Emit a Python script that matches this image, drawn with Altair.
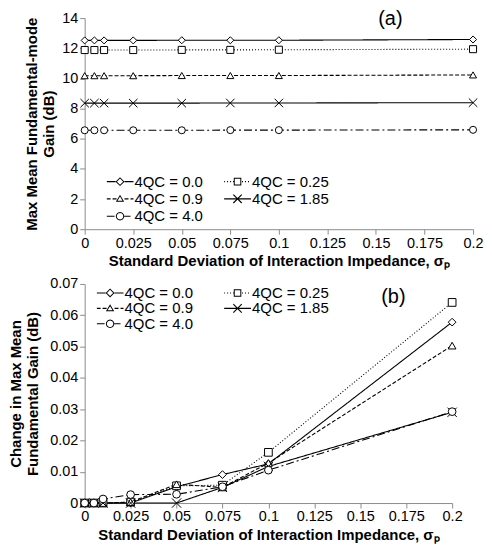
import math
import altair as alt
import pandas as pd

FONT = "Liberation Sans"

sigma = [0, 0.005, 0.01, 0.025, 0.05, 0.075, 0.1, 0.2]
series = ["4QC = 0.0", "4QC = 0.25", "4QC = 0.9", "4QC = 1.85", "4QC = 4.0"]

# panel (a): max mean fundamental-mode gain (dB)
gain_00 = [12.52, 12.52, 12.52, 12.52, 12.53, 12.53, 12.53, 12.58]
gain_025 = [11.88, 11.88, 11.88, 11.88, 11.89, 11.89, 11.90, 11.94]
gain_09 = [10.18, 10.18, 10.18, 10.18, 10.19, 10.19, 10.19, 10.23]
gain_185 = [8.36, 8.36, 8.36, 8.36, 8.36, 8.37, 8.37, 8.39]
gain_40 = [6.56, 6.56, 6.56, 6.56, 6.56, 6.57, 6.57, 6.59]

# panel (b): change in max mean fundamental gain (dB)
chg_00 = [0, 0, 0, 0, 0.0052, 0.0091, 0.0125, 0.0578]
chg_025 = [0, 0, 0, 0.0003, 0.0055, 0.0057, 0.0162, 0.0641]
chg_09 = [0, 0, 0, 0.0003, 0.0060, 0.0050, 0.0128, 0.0503]
chg_185 = [0, 0, 0, 0, 0, 0.0050, 0.0117, 0.0290]
chg_40 = [0, 0, 0.0013, 0.0027, 0.0028, 0.0052, 0.0105, 0.0292]

x_ticks = [0, 0.025, 0.05, 0.075, 0.1, 0.125, 0.15, 0.175, 0.2]
ya_ticks = [0, 2, 4, 6, 8, 10, 12, 14]
yb_ticks = [0, 0.01, 0.02, 0.03, 0.04, 0.05, 0.06, 0.07]


def long_df(cols):
    rows = []
    for name, vals in zip(series, cols):
        for s, v in zip(sigma, vals):
            rows.append({"sigma": s, "series": name, "val": v})
    return pd.DataFrame(rows)


df_a = long_df([gain_00, gain_025, gain_09, gain_185, gain_40])
df_b = long_df([chg_00, chg_025, chg_09, chg_185, chg_40])

dash_range = [[1, 0], [1, 2], [4, 2], [1, 0], [8, 3, 2, 3]]
point_shapes = ["diamond", "square", "triangle-up",
                "M-1.2,-1.2L1.2,1.2M-1.2,1.2L1.2,-1.2", "circle"]

# ---- legend glyphs (line sample + hollow marker) as filled SVG paths ----
R = 13.5  # half width of the legend symbol box in px (symbolSize 729 -> 27px)


def poly(points, solid=True):
    area = sum(points[i][0] * points[(i + 1) % len(points)][1]
               - points[(i + 1) % len(points)][0] * points[i][1]
               for i in range(len(points)))
    if (area > 0) != solid:
        points = points[::-1]
    s = "M" + "L".join(f"{x / R:.3f},{y / R:.3f}" for x, y in points) + "Z"
    return s


def line_pieces(pattern, gap, h=0.55):
    segs = []
    if pattern is None:
        segs = [(-R, R)]
    else:
        x, i = -R, 0
        while x < R:
            ln = pattern[i % len(pattern)]
            if i % 2 == 0:
                segs.append((x, min(x + ln, R)))
            x += ln
            i += 1
    out = []
    for a, b in segs:
        if gap > 0:
            if a < -gap:
                out.append((a, min(b, -gap)))
            if b > gap:
                out.append((max(a, gap), b))
        else:
            out.append((a, b))
    return "".join(poly([(a, -h), (b, -h), (b, h), (a, h)]) for a, b in out if b - a > 0.05)


def circle_pts(r, n=28):
    return [(r * math.cos(2 * math.pi * k / n), r * math.sin(2 * math.pi * k / n)) for k in range(n)]


def x_marker(a=4.2, t=0.55):
    q = t / math.sqrt(2)
    r1 = [(-a - q, -a + q), (a - q, a + q), (a + q, a - q), (-a + q, -a - q)]
    r2 = [(-a + q, a + q), (a + q, -a + q), (a - q, -a - q), (-a - q, a - q)]
    return poly(r1) + poly(r2)


legend_paths = [
    line_pieces(None, 4.5) + poly([(0, -4.5), (4.5, 0), (0, 4.5), (-4.5, 0)])
    + poly([(0, -3.1), (3.1, 0), (0, 3.1), (-3.1, 0)], solid=False),
    line_pieces([1, 2], 3.8) + poly([(-3.8, -3.8), (3.8, -3.8), (3.8, 3.8), (-3.8, 3.8)])
    + poly([(-2.8, -2.8), (2.8, -2.8), (2.8, 2.8), (-2.8, 2.8)], solid=False),
    line_pieces([4, 2], 2.45) + poly([(0, -4.2), (4.2, 3.0), (-4.2, 3.0)])
    + poly([(0, -2.22), (2.47, 2.01), (-2.47, 2.01)], solid=False),
    line_pieces(None, 0) + x_marker(),
    line_pieces([8, 3, 2, 3], 4.2) + poly(circle_pts(4.2)) + poly(circle_pts(3.2), solid=False),
]

X_TITLE = "Standard Deviation of Interaction Impedance, σₚ"


def panel(df, ytitle, ydomain, yticks, yfmt, width, height, psize,
          lx, ly, colpad, rowpad, clip, tag, tx, ty, tpad):
    x = alt.X("sigma:Q", scale=alt.Scale(domain=[0, 0.2], nice=False),
              axis=alt.Axis(values=x_ticks, format=".3~f", title=X_TITLE,
                            labelFlush=False, labelOverlap=False, titlePadding=4))
    y = alt.Y("val:Q", scale=alt.Scale(domain=ydomain, nice=False),
              axis=alt.Axis(values=yticks, format=yfmt, title=ytitle,
                            labelOverlap=False, titlePadding=tpad, titleLineHeight=17))
    base = alt.Chart(df)
    lines = base.mark_line(color="black", strokeWidth=1.1).encode(
        x=x, y=y, detail="series:N",
        strokeDash=alt.StrokeDash("series:N",
                                  scale=alt.Scale(domain=series, range=dash_range),
                                  legend=None))
    pts = base.mark_point(filled=False, fill="white", stroke="black",
                          strokeWidth=1, opacity=1, size=psize).encode(
        x=x, y=y,
        shape=alt.Shape("series:N",
                        scale=alt.Scale(domain=series, range=point_shapes),
                        legend=None))
    leg = alt.Legend(orient="none", legendX=lx, legendY=ly, columns=2, title=None,
                     direction="horizontal", labelFont=FONT, labelFontSize=15,
                     labelColor="black", symbolSize=729, symbolFillColor="black",
                     symbolStrokeWidth=0, symbolOpacity=1, labelOffset=1,
                     columnPadding=colpad, rowPadding=rowpad, padding=0,
                     clipHeight=clip)
    leg_layer = base.transform_filter("datum.sigma < 0").mark_point(
        filled=True, color="black", opacity=1, strokeWidth=0).encode(
        x=x, y=y,
        shape=alt.Shape("series:N",
                        scale=alt.Scale(domain=series, range=legend_paths),
                        legend=leg))
    tag_layer = alt.Chart(pd.DataFrame({"t": [tag]})).mark_text(
        font=FONT, fontSize=20, color="black", baseline="middle", align="center").encode(
        text="t:N", x=alt.value(tx), y=alt.value(ty))
    return alt.layer(lines, pts, leg_layer, tag_layer).resolve_scale(
        shape="independent", strokeDash="independent").properties(width=width, height=height)


top = panel(df_a, ["Max Mean Fundamental-mode", "Gain (dB)"], [0, 14], ya_ticks, "d",
            390, 212, 50, 22, 156.5, 21, 1.5, 15, "(a)", 307, 1, 5)
bottom = panel(df_b, ["Change in Max Mean", "Fundamental Gain (dB)"], [0, 0.07], yb_ticks,
               ".2~f", 369, 220, 60, 12, 2, 31, 0.5, 14, "(b)", 310, 13, 9)

chart = alt.vconcat(top, bottom, spacing=7).properties(
    padding={"left": 0, "top": 0, "right": 0, "bottom": 0}
).configure_view(stroke=None).configure_axis(
    grid=False, domainColor="#8c8c8c", tickColor="#8c8c8c", tickSize=5,
    labelFont=FONT, labelFontSize=14.5, labelColor="black", labelPadding=2,
    titleFont=FONT, titleFontSize=15, titleFontWeight="bold", titleColor="black"
)

chart.save("out.html", embed_options={"renderer": "svg", "actions": False})
